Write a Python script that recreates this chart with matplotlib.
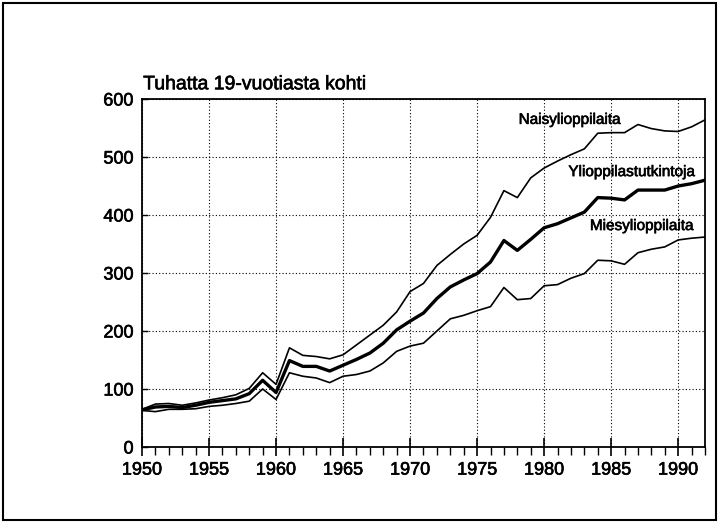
import matplotlib
matplotlib.use("Agg")
import matplotlib.pyplot as plt
import matplotlib.patheffects as pe
from matplotlib.patches import Rectangle
from matplotlib.ticker import MultipleLocator

plt.rcParams["font.family"] = ["Liberation Sans", "DejaVu Sans"]

years = list(range(1950, 1993))

# Naisylioppilaita (per 1000 19-year-olds)
naiset = [65, 74, 75, 72, 76, 81, 85, 90, 101, 128,
          108, 171, 158, 156, 152, 159, 176, 193, 210, 233,
          268, 282, 313, 332, 350, 365, 396, 442, 430, 464,
          481, 493, 504, 514, 541, 542, 542, 556, 549, 545,
          544, 552, 564]

# Ylioppilastutkintoja
kaikki = [64, 69, 70, 68, 72, 77, 80, 83, 92, 115,
          94, 149, 139, 139, 131, 141, 151, 162, 179, 202,
          217, 231, 256, 276, 288, 299, 319, 356, 339, 358,
          378, 385, 395, 405, 430, 429, 426, 443, 443, 443,
          450, 454, 460]

# Miesylioppilaita
miehet = [63, 61, 65, 65, 66, 70, 72, 75, 79, 100,
          82, 128, 122, 119, 111, 122, 125, 131, 145, 165,
          174, 179, 200, 221, 227, 235, 242, 275, 254, 256,
          278, 280, 291, 299, 322, 321, 315, 335, 341, 345,
          357, 360, 362]

yticks = [0, 100, 200, 300, 400, 500, 600]
xticks = [1950, 1955, 1960, 1965, 1970, 1975, 1980, 1985, 1990]

# slightly heavier glyphs, like printed type
ink = [pe.withStroke(linewidth=0.45, foreground="black")]

fig = plt.figure(figsize=(7.19, 5.23), dpi=100)
ax = fig.add_axes([0.1975, 0.1453, 0.7830, 0.6654])

ax.plot(years, naiset, color="black", lw=1.2)
ax.plot(years, kaikki, color="black", lw=2.4)
ax.plot(years, miehet, color="black", lw=1.2)

ax.set_xlim(1950, 1992)
ax.set_ylim(0, 600)
ax.set_xticks(xticks)
ax.set_yticks(yticks)
ax.xaxis.set_minor_locator(MultipleLocator(1))
ax.grid(True, which="major", color="black", linestyle=(0, (1, 2)), lw=0.8)
ax.tick_params(axis="x", which="major", direction="inout", length=13,
               width=1.2, labelsize=13, pad=4)
ax.tick_params(axis="x", which="minor", direction="out", length=6, width=1.0)
ax.tick_params(axis="y", which="major", direction="in", length=4,
               width=1.0, labelsize=13, pad=6)
for lbl in ax.get_xticklabels() + ax.get_yticklabels():
    lbl.set_path_effects(ink)
for s in ax.spines.values():
    s.set_linewidth(1.3)

for x, y, s, ha in [(1978.1, 564, "Naisylioppilaita", "left"),
                    (1991.2, 474, "Ylioppilastutkintoja", "right"),
                    (1991.1, 381, "Miesylioppilaita", "right")]:
    ax.text(x, y, s, fontsize=11, ha=ha, va="center", path_effects=ink)

ax.text(0.0, 1.0, "Tuhatta 19-vuotiasta kohti", transform=ax.transAxes,
        fontsize=14, ha="left", va="baseline", path_effects=ink)
ax.texts[-1].set_position((0.002, 1.028))

fig.patches.append(Rectangle((3 / 719, 3 / 523), 713 / 719, 517 / 523,
                             transform=fig.transFigure, fill=False,
                             edgecolor="black", lw=1.5))

fig.savefig("out.png", dpi=100)
